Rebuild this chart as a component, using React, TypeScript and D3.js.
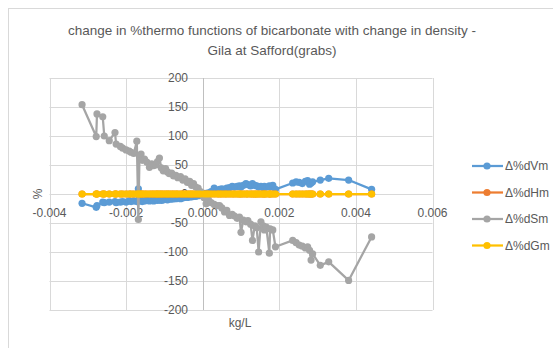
import React from "react";
import * as d3 from "d3";

const xVals = [
  -0.00315, -0.00278, -0.00276, -0.00261, -0.00257, -0.00244, -0.00229, -0.00226, -0.00215, -0.00209,
  -0.002, -0.00192, -0.00187, -0.0018, -0.00172, -0.00168, -0.00165, -0.00161, -0.00158, -0.00152,
  -0.00146, -0.00139, -0.00133, -0.00128, -0.00122, -0.00118, -0.00113, -0.00108, -0.00103, -0.00097,
  -0.00092, -0.00087, -0.00081, -0.00076, -0.0007, -0.00065, -0.00058, -0.00052, -0.00046, -0.0004,
  -0.00034, -0.00029, -0.00024, -0.00018, -0.00012, -0.00006, 0.00003, 0.00009, 0.00015, 0.00022,
  0.0003, 0.00038, 0.00044, 0.0005, 0.00057, 0.00063, 0.0007, 0.00077, 0.00083, 0.0009,
  0.00096, 0.001, 0.00106, 0.00113, 0.00118, 0.00125, 0.0013, 0.00136, 0.00141, 0.00146,
  0.00152, 0.00158, 0.00161, 0.00166, 0.00174, 0.00176, 0.00183, 0.0019, 0.00235, 0.00244,
  0.00252, 0.0026, 0.00268, 0.00274, 0.00279, 0.00283, 0.00287, 0.00307, 0.00329, 0.00381,
  0.00441,
];

const dVm = [
  -16, -23, -20, -14, -15, -14, -13, -15, -14, -13,
  -14, -12, -13, -12, -13, 9, -12, -11, -13, -12,
  -11, -12, -11, -12, -10, -11, -10, -11, -10, -9,
  -10, -9, -9, -8, -8, -7, -8, -7, -6, -6,
  -5, -5, -4, -4, -3, -2, 1, 1, 2, 4,
  10, 6, 8, 9, 8, 10, 11, 13, 12, 13,
  14, 12, 15, 18, 16, 14, 18, 15, 14, 12,
  13, 11, 13, 12, 14, 12, 15, 8, 19, 21,
  20, 18, 22, 23, 17, 19, 21, 24, 27, 24,
  8,
];

const dHm = [
  0, 0, 0, 0, 0, 0, 0, 0, 0, 0,
  0, 0, 0, 0, 0, 0, 0, 0, 0, 0,
  0, 0, 0, 0, 0, 0, 0, 0, 0, 0,
  0, 0, 0, 0, 0, 0, 0, 0, 0, 0,
  0, 0, 0, 0, 0, 0, 0, 0, 0, 0,
  0, 0, 0, 0, 0, 0, 0, 0, 0, 0,
  0, 0, 0, 0, 0, 0, 0, 0, 0, 0,
  0, 0, 0, 0, 0, 0, 0, 0, 0, 0,
  0, 0, 0, 0, 0, 0, 0, 0, 0, 0,
  0,
];

const dSm = [
  154, 99, 138, 133, 100, 92, 106, 86, 82, 79,
  76, 74, 72, 70, 91, -44, 66, 69, 58, 60,
  55, 46, 52, 49, 50, 56, 62, 45, 40, 44,
  38, 35, 36, 31, 32, 28, 30, 24, 26, 20,
  22, 15, 18, 12, 10, 4, -6, -17, -10, -15,
  -18, -20, -20, -24, -31, -28, -37, -35, -38, -42,
  -40, -66, -45, -48, -46, -52, -80, -55, -58, -100,
  -48, -55, -62, -57, -102, -60, -62, -91, -80, -84,
  -88, -90, -93, -91, -97, -114, -103, -123, -117, -149,
  -74,
];

const dGm = [
  0, 0, 0, 0, 0, 0, 0, 0, 0, 0,
  0, 0, 0, 0, 0, 0, 0, 0, 0, 0,
  0, 0, 0, 0, 0, 0, 0, 0, 0, 0,
  0, 0, 0, 0, 0, 0, 0, 0, 0, 0,
  0, 0, 0, 0, 0, 0, 0, 0, 0, 0,
  0, 0, 0, 0, 0, 0, 0, 0, 0, 0,
  0, 0, 0, 0, 0, 0, 0, 0, 0, 0,
  0, 0, 0, 0, 0, 0, 0, 0, 0, 0,
  0, 0, 0, 0, 0, 0, 0, 0, 0, 0,
  0,
];

const seriesNames = ["Δ%dVm", "Δ%dHm", "Δ%dSm", "Δ%dGm"];
const seriesColors = ["#5B9BD5", "#ED7D31", "#A5A5A5", "#FFC000"];
const xTicks = [-0.004, -0.002, 0, 0.002, 0.004, 0.006];
const yTicks = [-200, -150, -100, -50, 0, 50, 100, 150, 200];
const titleLines = [
  "change in %thermo functions of bicarbonate with change in density -",
  "Gila at Safford(grabs)",
];

export default function App() {
  const W = 553;
  const H = 348;
  const x = d3.scaleLinear().domain([-0.004, 0.006]).range([49.5, 432.5]);
  const y = d3.scaleLinear().domain([-200, 200]).range([310, 78]);
  const seriesData = [dVm, dHm, dSm, dGm];
  const line = d3
    .line<[number, number]>()
    .x((d) => x(d[0]))
    .y((d) => y(d[1]));
  const font = "'Liberation Sans', Arial, sans-serif";
  const textColor = "#595959";

  return (
    <svg
      width={W}
      height={H}
      style={{ position: "absolute", left: 0, top: 0, background: "#fff" }}
      fontFamily={font}
    >
      <rect x={0} y={0} width={W} height={H} fill="#fff" />
      <rect x={8.5} y={8.5} width={W + 20} height={H + 20} fill="none" stroke="#d9d9d9" />
      {titleLines.map((t, i) => (
        <text key={i} x={272} y={35 + i * 20} textAnchor="middle" fontSize={13.5} fill={textColor}>
          {t}
        </text>
      ))}
      {yTicks.map((v) => (
        <line key={"gy" + v} x1={x(-0.004)} x2={x(0.006)} y1={Math.round(y(v)) + 0.5} y2={Math.round(y(v)) + 0.5} stroke="#d9d9d9" strokeWidth={1} />
      ))}
      {xTicks.map((v) => (
        <line key={"gx" + v} x1={Math.round(x(v)) + 0.5} x2={Math.round(x(v)) + 0.5} y1={y(200)} y2={y(-200)} stroke={v === 0 ? "#bfbfbf" : "#d9d9d9"} strokeWidth={1} />
      ))}
      {yTicks.map((v) => (
        <text key={"ty" + v} x={188} y={y(v)} dy="0.35em" textAnchor="end" fontSize={12} fill={textColor}>
          {v}
        </text>
      ))}
      {xTicks.map((v) => (
        <text key={"tx" + v} x={x(v)} y={217} textAnchor="middle" fontSize={12} fill={textColor}>
          {d3.format(".3f")(v).replace("−", "-")}
        </text>
      ))}
      <text x={0} y={0} transform={`translate(42,194) rotate(-90)`} textAnchor="middle" fontSize={12} fill={textColor}>
        %
      </text>
      <text x={240} y={327} textAnchor="middle" fontSize={12} fill={textColor}>
        kg/L
      </text>
      {seriesData.map((vals, si) => {
        const pts: [number, number][] = xVals.map((xv, i) => [xv, vals[i]]);
        return (
          <g key={"s" + si}>
            <path d={line(pts) || ""} fill="none" stroke={seriesColors[si]} strokeWidth={2.25} strokeLinejoin="round" />
            {pts.map((p, i) => (
              <circle key={i} cx={x(p[0])} cy={y(p[1])} r={3.6} fill={seriesColors[si]} />
            ))}
          </g>
        );
      })}
      {seriesNames.map((n, i) => {
        const ly = 166 + i * 26.5;
        return (
          <g key={"l" + i}>
            <line x1={472} x2={503} y1={ly} y2={ly} stroke={seriesColors[i]} strokeWidth={2.25} />
            <circle cx={487} cy={ly} r={3.6} fill={seriesColors[i]} />
            <text x={505} y={ly} dy="0.35em" fontSize={12} fill={textColor}>
              {n}
            </text>
          </g>
        );
      })}
    </svg>
  );
}
